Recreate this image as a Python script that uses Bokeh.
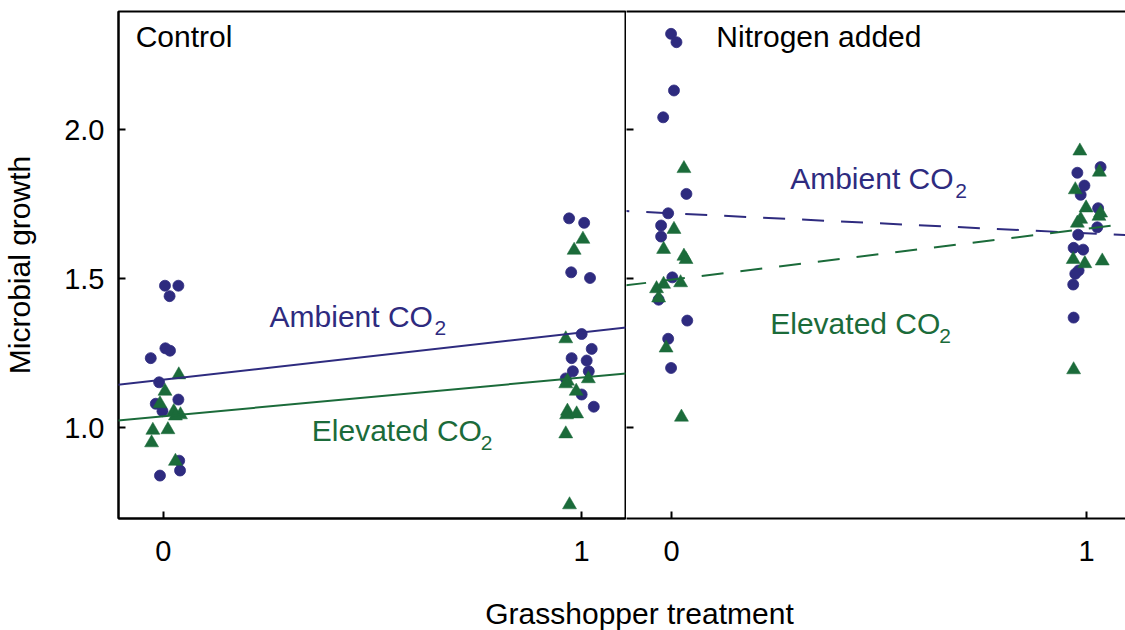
from bokeh.plotting import figure
from bokeh.layouts import row, column
from bokeh.models import FixedTicker, PrintfTickFormatter, Slope, LinearAxis, Range1d
from bokeh.core.properties import value
from bokeh.embed import file_html
from bokeh.resources import INLINE

NAVY = "#2e2b7f"
GREEN = "#1b6b3a"
FONT = "Liberation Sans"

# ---- Control plots (no nitrogen) ----
# ambient CO2 (circles); x is the grasshopper treatment with jitter
ctrl_amb_x = [0.004, 0.036, 0.015, 0.005, 0.016, -0.030, -0.010, 0.036, -0.018, -0.002, 0.038, 0.040, -0.008,
              0.970, 1.006, 0.975, 1.020, 1.000, 1.024, 0.976, 1.012, 0.979, 1.017, 0.962, 1.000, 1.029]
ctrl_amb_y = [1.477, 1.477, 1.442, 1.267, 1.259, 1.234, 1.153, 1.095, 1.081, 1.056, 0.890, 0.857, 0.840,
              1.703, 1.688, 1.522, 1.503, 1.315, 1.265, 1.234, 1.226, 1.190, 1.190, 1.166, 1.112, 1.071]
# elevated CO2 (triangles)
ctrl_elev_x = [0.037, 0.004, -0.008, 0.025, 0.041, 0.029, -0.025, 0.011, -0.028, 0.029,
               1.003, 0.982, 0.962, 0.966, 0.962, 1.016, 0.987, 0.966, 0.988, 0.964, 0.962, 0.971]
ctrl_elev_y = [1.178, 1.123, 1.081, 1.055, 1.044, 1.040, 0.992, 0.994, 0.950, 0.888,
               1.633, 1.596, 1.299, 1.157, 1.148, 1.165, 1.123, 1.056, 1.047, 1.044, 0.980, 0.742]

# ---- Nitrogen-added plots ----
nitro_amb_x = [-0.001, 0.012, 0.006, -0.020, 0.036, -0.008, -0.025, -0.025, 0.002, -0.031, 0.038, -0.008, -0.001,
               1.034, 0.978, 0.995, 0.986, 1.028, 1.026, 0.980, 0.969, 0.992, 0.981, 0.973, 0.968, 0.969]
nitro_amb_y = [2.322, 2.294, 2.132, 2.042, 1.785, 1.720, 1.679, 1.642, 1.505, 1.430, 1.360, 1.299, 1.201,
               1.875, 1.856, 1.813, 1.782, 1.737, 1.673, 1.648, 1.604, 1.598, 1.528, 1.517, 1.481, 1.370]
nitro_elev_x = [0.030, 0.006, -0.019, 0.030, 0.035, 0.022, -0.019, -0.036, -0.031, -0.013, 0.024,
                0.984, 1.031, 0.973, 0.999, 1.034, 0.986, 1.030, 0.978, 0.968, 0.996, 1.038, 0.969]
nitro_elev_y = [1.870, 1.666, 1.599, 1.576, 1.565, 1.487, 1.482, 1.467, 1.436, 1.268, 1.036,
                1.929, 1.858, 1.799, 1.738, 1.721, 1.700, 1.710, 1.687, 1.565, 1.551, 1.560, 1.195]

# fitted growth at grasshopper treatment 0 and 1
ctrl_amb_fit = [1.162, 1.320]
ctrl_elev_fit = [1.039, 1.169]
nitro_amb_fit = [1.720, 1.653]
nitro_elev_fit = [1.497, 1.668]

y_ticks = [1.0, 1.5, 2.0]
x_ticks = [0, 1]

Y_RANGE = (0.696, 2.397)
H = 580
TEXT_SIZE = "30px"
X_LABEL_STANDOFF = 22


def style_axes(p):
    p.grid.grid_line_color = None
    for ax in p.axis:
        ax.minor_tick_line_color = None
        ax.major_tick_in = 7
        ax.major_tick_out = 0
        ax.major_tick_line_width = 2
        ax.major_tick_line_color = "black"
        ax.axis_line_width = 2
        ax.axis_line_color = "black"
        ax.major_label_text_font = FONT
        ax.major_label_text_font_size = "29px"
        ax.major_label_text_color = "black"
        ax.axis_label_text_font = FONT
        ax.axis_label_text_font_size = TEXT_SIZE
        ax.axis_label_text_font_style = "normal"
        ax.axis_label_text_color = "black"


def hide_labels(ax):
    ax.major_label_text_color = None
    ax.major_label_text_font_size = "1px"
    ax.major_label_standoff = 0


def draw_panel(p, ax, ay, ex, ey, afit, efit, dash):
    p.scatter(ax, ay, marker="circle", size=11, fill_color=NAVY, line_color=NAVY, line_width=0.8)
    p.scatter(ex, ey, marker="triangle", size=14, fill_color=GREEN, line_color=GREEN, line_width=0.5)
    p.add_layout(Slope(gradient=afit[1] - afit[0], y_intercept=afit[0],
                       line_color=NAVY, line_width=2, line_dash=dash))
    p.add_layout(Slope(gradient=efit[1] - efit[0], y_intercept=efit[0],
                       line_color=GREEN, line_width=2, line_dash=dash))


def plain_label(p, x, y, txt, color):
    p.text(x=[x], y=[y], text=[txt], text_font=value(FONT), text_font_size=TEXT_SIZE,
           text_color=color, text_align="left", text_baseline="middle")


def co2_label(p, x, y, word, color, sub_dx):
    plain_label(p, x, y, word + " CO", color)
    p.text(x=[x], y=[y], text=["2"], x_offset=sub_dx, y_offset=12, text_font=value(FONT),
           text_font_size="21px", text_color=color, text_align="left", text_baseline="middle")


# ---- left panel: control ----
left = figure(width=626, height=H, x_range=Range1d(-0.1071, 1.1048), y_range=Range1d(*Y_RANGE),
              output_backend="svg", toolbar_location=None,
              min_border_left=116, min_border_right=1, min_border_top=11, min_border_bottom=H - 518,
              outline_line_color="black", outline_line_width=2, background_fill_color=None,
              border_fill_color=None)
left.yaxis.axis_label = "Microbial growth"
left.yaxis.ticker = FixedTicker(ticks=y_ticks)
left.yaxis.formatter = PrintfTickFormatter(format="%.1f")
left.xaxis.ticker = FixedTicker(ticks=x_ticks)
style_axes(left)
left.yaxis.major_label_standoff = 14
left.yaxis.axis_label_standoff = 25
left.below[0].major_label_standoff = X_LABEL_STANDOFF

draw_panel(left, ctrl_amb_x, ctrl_amb_y, ctrl_elev_x, ctrl_elev_y, ctrl_amb_fit, ctrl_elev_fit, "solid")
plain_label(left, -0.066, 2.313, "Control", "black")
co2_label(left, 0.254, 1.375, "Ambient", NAVY, 165)
co2_label(left, 0.355, 0.990, "Elevated", GREEN, 169)

# ---- right panel: nitrogen added ----
right = figure(width=499, height=H, x_range=Range1d(-0.1084, 1.094), y_range=Range1d(*Y_RANGE),
               output_backend="svg", toolbar_location=None,
               min_border_left=0, min_border_right=0, min_border_top=11, min_border_bottom=H - 518,
               outline_line_color=None, background_fill_color=None, border_fill_color=None)
top_ax = LinearAxis()
right.add_layout(top_ax, "above")
right.yaxis.ticker = FixedTicker(ticks=y_ticks)
right.below[0].ticker = FixedTicker(ticks=x_ticks)
style_axes(right)
right.below[0].major_label_standoff = X_LABEL_STANDOFF
for ax in right.left:
    hide_labels(ax)
    ax.axis_line_color = None
top_ax.major_tick_in = 0
top_ax.major_tick_line_color = None
hide_labels(top_ax)

draw_panel(right, nitro_amb_x, nitro_amb_y, nitro_elev_x, nitro_elev_y, nitro_amb_fit, nitro_elev_fit, "22 17")
plain_label(right, 0.108, 2.313, "Nitrogen added", "black")
co2_label(right, 0.286, 1.836, "Ambient", NAVY, 165)
co2_label(right, 0.238, 1.350, "Elevated", GREEN, 169)

# ---- shared x-axis title ----
foot = figure(width=1125, height=630 - H, x_range=Range1d(0, 1125), y_range=Range1d(0, 630 - H),
              output_backend="svg", toolbar_location=None, min_border=0,
              x_axis_location=None, y_axis_location=None, outline_line_color=None,
              background_fill_color=None, border_fill_color=None)
foot.grid.grid_line_color = None
foot.text(x=[639], y=[630 - 613], text=["Grasshopper treatment"], text_font=value(FONT),
          text_font_size=TEXT_SIZE, text_color="black", text_align="center", text_baseline="middle")

layout = column(row(left, right, spacing=0), foot, spacing=0)
open("out.html", "w").write(file_html(layout, INLINE))
